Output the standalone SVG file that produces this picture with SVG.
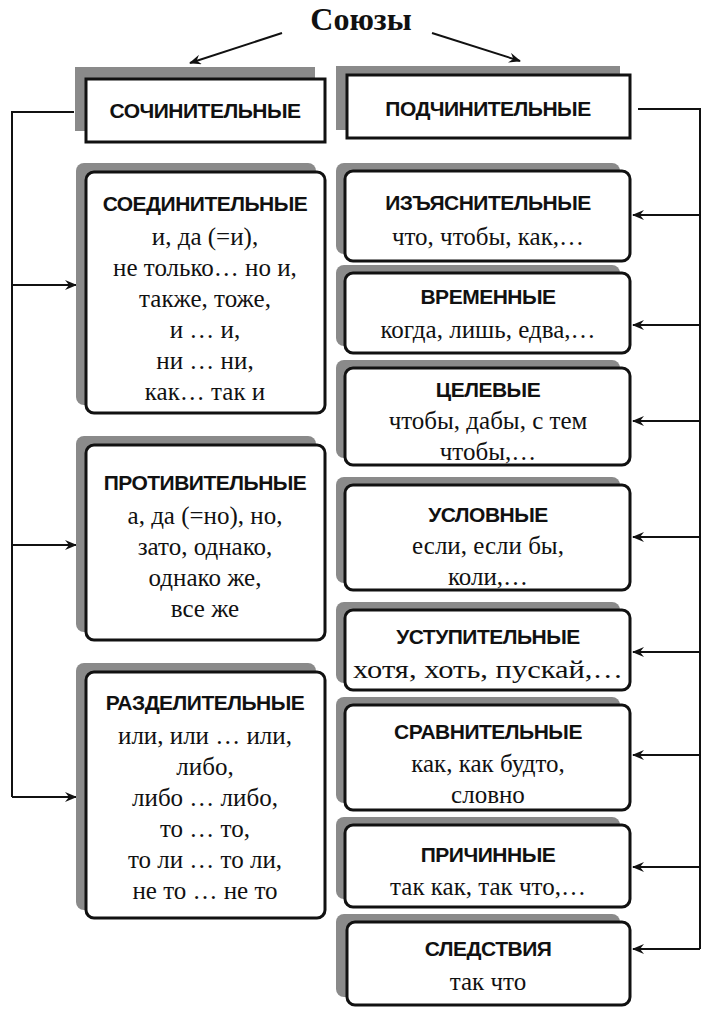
<svg xmlns="http://www.w3.org/2000/svg" width="724" height="1024" viewBox="0 0 724 1024">
<defs>
<style>
.sh{fill:#8a8a8a}
.bx{fill:#fff;stroke:#111;stroke-width:3}
.h{font-family:"Liberation Sans",Arial,sans-serif;font-weight:bold;font-size:21px;text-anchor:middle;fill:#111;letter-spacing:-0.5px}
.t{font-family:"Liberation Serif","Times New Roman",serif;font-size:25px;text-anchor:middle;fill:#111}
.ln{fill:none;stroke:#111;stroke-width:2}
</style>
<marker id="a" viewBox="0 0 12 10" refX="11" refY="5" markerWidth="12" markerHeight="10" markerUnits="userSpaceOnUse" orient="auto"><path d="M0,0 L12,5 L0,10 L4,5 Z" fill="#111"/></marker>
</defs>
<text x="361" y="30" font-family="Liberation Serif,serif" font-weight="bold" font-size="32" text-anchor="middle" fill="#111">Союзы</text>
<g id="connectors">
<path class="ln" d="M282,33 L190,63" marker-end="url(#a)"/>
<path class="ln" d="M432,33 L520,61" marker-end="url(#a)"/>
<path class="ln" d="M74,112 H12 V797"/>
<path class="ln" d="M12,285 H76" marker-end="url(#a)"/>
<path class="ln" d="M12,545 H76" marker-end="url(#a)"/>
<path class="ln" d="M12,797 H76" marker-end="url(#a)"/>
<path class="ln" d="M638,109 H700 V949"/>
<path class="ln" d="M700,215 H633" marker-end="url(#a)"/>
<path class="ln" d="M700,325 H633" marker-end="url(#a)"/>
<path class="ln" d="M700,421 H633" marker-end="url(#a)"/>
<path class="ln" d="M700,537 H633" marker-end="url(#a)"/>
<path class="ln" d="M700,652 H633" marker-end="url(#a)"/>
<path class="ln" d="M700,755 H633" marker-end="url(#a)"/>
<path class="ln" d="M700,867 H633" marker-end="url(#a)"/>
<path class="ln" d="M700,949 H633" marker-end="url(#a)"/>
</g>
<g id="n-soch"><rect class="sh" x="75" y="67" width="240" height="64"/><rect class="bx" x="86" y="79" width="239" height="63"/><text class="h" x="205" y="118">СОЧИНИТЕЛЬНЫЕ</text></g>
<g id="n-podch"><rect class="sh" x="336" y="66" width="284" height="64"/><rect class="bx" x="347" y="75" width="283" height="63"/><text class="h" x="488" y="116">ПОДЧИНИТЕЛЬНЫЕ</text></g>
<g id="n-soed"><rect class="sh" x="76" y="163" width="240" height="242" rx="8"/><rect class="bx" x="86" y="172" width="239" height="241" rx="8"/>
<text class="h" x="205" y="211">СОЕДИНИТЕЛЬНЫЕ</text>
<text class="t" x="205" y="245">и, да (=и),</text><text class="t" x="205" y="276">не только… но и,</text><text class="t" x="205" y="307">также, тоже,</text><text class="t" x="205" y="338">и … и,</text><text class="t" x="205" y="369">ни … ни,</text><text class="t" x="205" y="400">как… так и</text></g>
<g id="n-prot"><rect class="sh" x="76" y="436" width="240" height="196" rx="8"/><rect class="bx" x="86" y="445" width="239" height="195" rx="8"/>
<text class="h" x="205" y="490">ПРОТИВИТЕЛЬНЫЕ</text>
<text class="t" x="205" y="524">а, да (=но), но,</text><text class="t" x="205" y="555">зато, однако,</text><text class="t" x="205" y="586">однако же,</text><text class="t" x="205" y="617">все же</text></g>
<g id="n-razd"><rect class="sh" x="76" y="663" width="240" height="247" rx="8"/><rect class="bx" x="86" y="672" width="239" height="246" rx="8"/>
<text class="h" x="205" y="710">РАЗДЕЛИТЕЛЬНЫЕ</text>
<text class="t" x="205" y="744">или, или … или,</text><text class="t" x="205" y="775">либо,</text><text class="t" x="205" y="806">либо … либо,</text><text class="t" x="205" y="837">то … то,</text><text class="t" x="205" y="868">то ли … то ли,</text><text class="t" x="205" y="899">не то … не то</text></g>
<g id="n-izj"><rect class="sh" x="336" y="163" width="284" height="91" rx="8"/><rect class="bx" x="345" y="171" width="285" height="90" rx="8"/><text class="h" x="488" y="210">ИЗЪЯСНИТЕЛЬНЫЕ</text><text class="t" x="488" y="245">что, чтобы, как,…</text></g>
<g id="n-vrem"><rect class="sh" x="336" y="265" width="284" height="81" rx="8"/><rect class="bx" x="345" y="273" width="285" height="80" rx="8"/><text class="h" x="488" y="304">ВРЕМЕННЫЕ</text><text class="t" x="488" y="338">когда, лишь, едва,…</text></g>
<g id="n-cel"><rect class="sh" x="336" y="360" width="284" height="98" rx="8"/><rect class="bx" x="345" y="368" width="285" height="97" rx="8"/><text class="h" x="488" y="397">ЦЕЛЕВЫЕ</text><text class="t" x="488" y="429">чтобы, дабы, с тем</text><text class="t" x="488" y="460">чтобы,…</text></g>
<g id="n-usl"><rect class="sh" x="336" y="477" width="284" height="106" rx="8"/><rect class="bx" x="345" y="485" width="285" height="105" rx="8"/><text class="h" x="488" y="522">УСЛОВНЫЕ</text><text class="t" x="488" y="554">если, если бы,</text><text class="t" x="488" y="585">коли,…</text></g>
<g id="n-ust"><rect class="sh" x="336" y="602" width="284" height="81" rx="8"/><rect class="bx" x="345" y="610" width="285" height="80" rx="8"/><text class="h" x="488" y="644">УСТУПИТЕЛЬНЫЕ</text><text class="t" x="488" y="678" textLength="270" lengthAdjust="spacingAndGlyphs">хотя, хоть, пускай,…</text></g>
<g id="n-srav"><rect class="sh" x="336" y="697" width="284" height="106" rx="8"/><rect class="bx" x="345" y="705" width="285" height="105" rx="8"/><text class="h" x="488" y="739">СРАВНИТЕЛЬНЫЕ</text><text class="t" x="488" y="772">как, как будто,</text><text class="t" x="488" y="803">словно</text></g>
<g id="n-prich"><rect class="sh" x="336" y="817" width="284" height="82" rx="8"/><rect class="bx" x="345" y="825" width="285" height="82" rx="8"/><text class="h" x="488" y="862">ПРИЧИННЫЕ</text><text class="t" x="488" y="895">так как, так что,…</text></g>
<g id="n-sled"><rect class="sh" x="336" y="914" width="284" height="83" rx="8"/><rect class="bx" x="347" y="922" width="283" height="83" rx="8"/><text class="h" x="488" y="956">СЛЕДСТВИЯ</text><text class="t" x="488" y="990">так что</text></g>
</svg>
